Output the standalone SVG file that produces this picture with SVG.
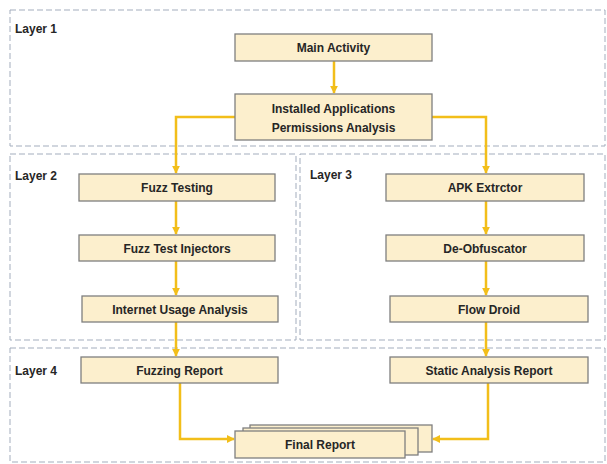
<svg xmlns="http://www.w3.org/2000/svg" width="607" height="464" viewBox="0 0 607 464">
  <defs>
    <marker id="arrow" viewBox="0 0 10 10" refX="9" refY="5" markerWidth="3.2" markerHeight="3.2" orient="auto-start-reverse" markerUnits="strokeWidth">
      <path d="M0,0 L10,5 L0,10 z" fill="#f2be1a"/>
    </marker>
    <style>
      .layer { fill: none; stroke: #a3adbd; stroke-width: 1; stroke-dasharray: 6 3; }
      .layer-label { font-family: "Liberation Sans", Arial, sans-serif; font-weight: bold; font-size: 12px; fill: #262626; }
      .box { fill: #fcefcd; stroke: #7f7f7f; stroke-width: 1.3; }
      .label { font-family: "Liberation Sans", Arial, sans-serif; font-weight: bold; font-size: 12px; fill: #262626; text-anchor: middle; }
      .conn { fill: none; stroke: #f2be1a; stroke-width: 2.5; marker-end: url(#arrow); }
    </style>
  </defs>
  <rect width="607" height="464" fill="#ffffff"/>

  <!-- layer frames -->
  <g id="layers">
    <rect class="layer" x="10" y="10" width="595" height="136"/>
    <text class="layer-label" x="15" y="33">Layer 1</text>
    <rect class="layer" x="10" y="154" width="286" height="186"/>
    <text class="layer-label" x="15" y="180">Layer 2</text>
    <rect class="layer" x="300" y="154" width="305" height="186"/>
    <text class="layer-label" x="310" y="179">Layer 3</text>
    <rect class="layer" x="10" y="348" width="595" height="114"/>
    <text class="layer-label" x="15" y="375">Layer 4</text>
  </g>

  <!-- connectors -->
  <g id="connectors">
    <path class="conn" d="M334,61 V93"/>
    <path class="conn" d="M235,117 H176 V173"/>
    <path class="conn" d="M432,117 H486 V173"/>
    <path class="conn" d="M176,201 V234"/>
    <path class="conn" d="M176,261 V295"/>
    <path class="conn" d="M176,322 V356"/>
    <path class="conn" d="M486,201 V234"/>
    <path class="conn" d="M486,261 V295"/>
    <path class="conn" d="M486,322 V356"/>
    <path class="conn" d="M180,383 V439 H234"/>
    <path class="conn" d="M488,383 V439 H433"/>
  </g>

  <!-- nodes -->
  <g id="main-activity">
    <rect class="box" x="235" y="34" width="197" height="27"/>
    <text class="label" x="333.5" y="52">Main Activity</text>
  </g>
  <g id="installed-apps">
    <rect class="box" x="235" y="94" width="197" height="46"/>
    <text class="label" x="333.5" y="112.5">Installed Applications</text>
    <text class="label" x="333.5" y="132">Permissions Analysis</text>
  </g>
  <g id="fuzz-testing">
    <rect class="box" x="79" y="174" width="196" height="27"/>
    <text class="label" x="177" y="192">Fuzz Testing</text>
  </g>
  <g id="fuzz-injectors">
    <rect class="box" x="79" y="235" width="196" height="26"/>
    <text class="label" x="177" y="252.5">Fuzz Test Injectors</text>
  </g>
  <g id="internet-usage">
    <rect class="box" x="82" y="296" width="196" height="26"/>
    <text class="label" x="180" y="313.5">Internet Usage Analysis</text>
  </g>
  <g id="apk-extractor">
    <rect class="box" x="386" y="174" width="198" height="27"/>
    <text class="label" x="485" y="192">APK Extrctor</text>
  </g>
  <g id="de-obfuscator">
    <rect class="box" x="386" y="235" width="198" height="26"/>
    <text class="label" x="485" y="252.5">De-Obfuscator</text>
  </g>
  <g id="flow-droid">
    <rect class="box" x="390" y="296" width="198" height="26"/>
    <text class="label" x="489" y="313.5">Flow Droid</text>
  </g>
  <g id="fuzzing-report">
    <rect class="box" x="81" y="357" width="197" height="26"/>
    <text class="label" x="179.5" y="374.5">Fuzzing Report</text>
  </g>
  <g id="static-report">
    <rect class="box" x="390" y="357" width="198" height="26"/>
    <text class="label" x="489" y="374.5">Static Analysis Report</text>
  </g>
  <g id="final-report">
    <rect class="box" x="250" y="425" width="182" height="27"/>
    <rect class="box" x="243" y="428" width="175" height="27"/>
    <rect class="box" x="235" y="431" width="170" height="27"/>
    <text class="label" x="320" y="448.5">Final Report</text>
  </g>
</svg>
